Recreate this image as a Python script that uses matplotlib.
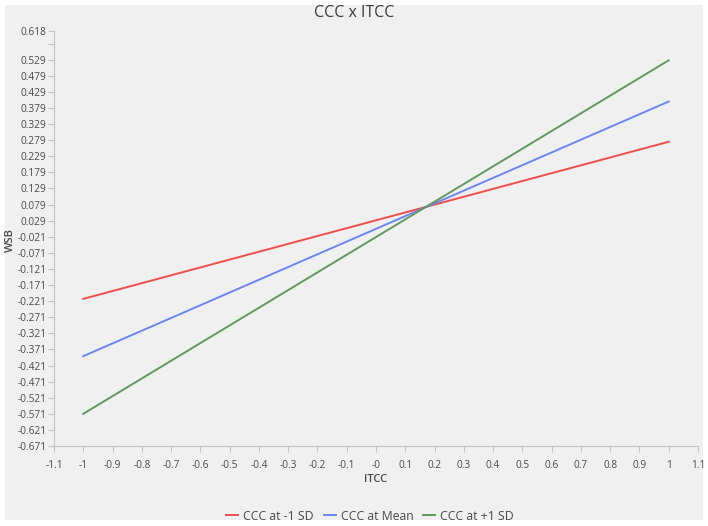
"""Simple slopes plot: CCC x ITCC interaction on WSB."""

import matplotlib.pyplot as plt
from matplotlib.patches import Rectangle

plt.rcParams.update({"font.family": ["Open Sans", "DejaVu Sans"]})

# Data
itcc = [-1, 1]
wsb_low = [-0.214, 0.274]    # CCC at -1 SD
wsb_mean = [-0.392, 0.399]   # CCC at Mean
wsb_high = [-0.571, 0.527]   # CCC at +1 SD
series_labels = ["CCC at -1 SD", "CCC at Mean", "CCC at +1 SD"]
series_colors = ["#ef4e4e", "#6c87f0", "#62995f"]

x_ticks = [round(-1.1 + 0.1 * i, 1) for i in range(23)]
x_labels = ["-0" if abs(v) < 1e-9 else f"{v:g}" for v in x_ticks]
y_ticks = [round(-0.671 + 0.05 * i, 3) for i in range(26)] + [0.618]
y_labels = [f"{v:.3f}" for v in y_ticks]
y_labels[-2] = ""   # unlabeled 0.579 tick

bg = "#f0f0f0"
txt = "#4a4a4a"
spine = "#c4c4c4"

fig = plt.figure(figsize=(7.08, 5.26), dpi=100, facecolor="white")
fig.patches.append(Rectangle((5 / 708, 6 / 526), 698 / 708, 515 / 526,
                             transform=fig.transFigure, facecolor=bg,
                             edgecolor="none", zorder=-10))
ax = fig.add_axes([54 / 708, 80 / 526, 644 / 708, 415 / 526])
ax.set_facecolor(bg)

for ys, lab, c in zip([wsb_low, wsb_mean, wsb_high], series_labels, series_colors):
    ax.plot(itcc, ys, color=c, lw=1.4, label=lab)

ax.set_xlim(-1.1, 1.1)
ax.set_ylim(-0.671, 0.618)
ax.set_xticks(x_ticks)
ax.set_xticklabels(x_labels)
ax.set_yticks(y_ticks)
ax.set_yticklabels(y_labels)
ax.tick_params(labelsize=7.3, colors=spine, labelcolor=txt, length=4, width=0.8)
ax.tick_params(axis="x", pad=6)
ax.tick_params(axis="y", pad=1.5)

for s in ["top", "right"]:
    ax.spines[s].set_visible(False)
for s in ["left", "bottom"]:
    ax.spines[s].set_color(spine)
    ax.spines[s].set_linewidth(0.8)

ax.set_xlabel("ITCC", fontsize=8, color=txt, fontweight="semibold", labelpad=2)
fig.text(10 / 708, 1 - 240 / 526, "WSB", rotation=90, ha="center", va="center",
         fontsize=8, color=txt, fontweight="semibold")
ax.grid(False)

fig.text(0.5, 1 - 13 / 526, "CCC x ITCC", ha="center", va="center",
         fontsize=11.5, color="#3a3a3a")

fig.legend(loc="center", bbox_to_anchor=(370 / 708, 1 - 516 / 526), ncol=3,
           frameon=False, fontsize=8.8, handlelength=1.0, handletextpad=0.4,
           columnspacing=0.8, labelcolor=txt)

fig.savefig("out.png", dpi=100, facecolor="white")
